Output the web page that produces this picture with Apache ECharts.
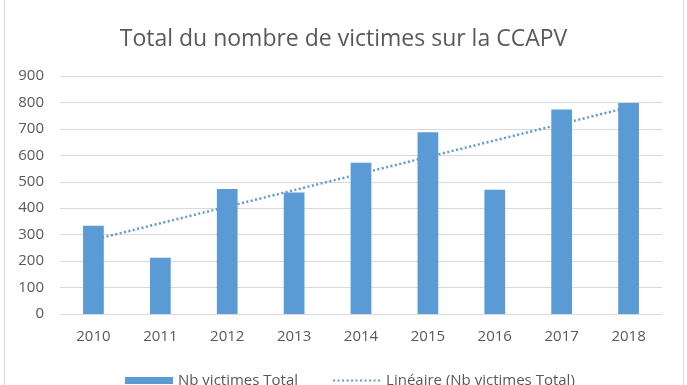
<!DOCTYPE html>
<html>
<head>
<meta charset="utf-8">
<script src="https://cdn.jsdelivr.net/npm/echarts@6/dist/echarts.min.js"></script>
<style>
html,body{margin:0;padding:0;background:#fff;}
#chart{width:687px;height:385px;}
</style>
</head>
<body>
<div id="chart"></div>
<script>
const categories = ['2010','2011','2012','2013','2014','2015','2016','2017','2018'];
const victims = [334, 213, 473, 459, 572, 687, 470, 773, 798];
const yTicks = [0, 100, 200, 300, 400, 500, 600, 700, 800, 900];

// Linear trend (least squares) of the bar series, as in the original "Linéaire" trendline
function linearTrend(vals) {
  const n = vals.length;
  const mx = (n - 1) / 2;
  const my = vals.reduce((a, b) => a + b, 0) / n;
  let sxy = 0, sxx = 0;
  vals.forEach((v, i) => { sxy += (i - mx) * (v - my); sxx += (i - mx) * (i - mx); });
  const slope = sxy / sxx;
  return vals.map((v, i) => +(my + slope * (i - mx)).toFixed(2));
}
const trend = linearTrend(victims);

const chart = echarts.init(document.getElementById('chart'));
const textColor = '#595959';
const font = '"Open Sans", sans-serif';
chart.setOption({
  animation: false,
  textStyle: { fontFamily: font },
  title: {
    text: 'Total du nombre de victimes sur la CCAPV',
    left: 'center',
    top: 23,
    textStyle: { fontFamily: font, fontSize: 23, fontWeight: 'normal', color: textColor }
  },
  graphic: [{
    type: 'rect',
    shape: { x: 4.5, y: -1, width: 679, height: 390 },
    style: { fill: 'none', stroke: '#d9d9d9', lineWidth: 1 },
    silent: true
  }],
  grid: { left: 60, right: 25, top: 76, bottom: 71 },
  legend: {
    top: 368,
    left: 120,
    itemGap: 34,
    itemWidth: 48,
    itemHeight: 7,
    textStyle: { fontFamily: font, fontSize: 15, color: textColor },
    data: [
      { name: 'Nb victimes Total', icon: 'rect' },
      { name: 'Linéaire (Nb victimes Total)', itemStyle: { opacity: 0 } }
    ]
  },
  xAxis: {
    type: 'category',
    data: categories,
    axisLine: { lineStyle: { color: '#d9d9d9' } },
    axisTick: { show: false },
    axisLabel: { color: textColor, fontSize: 15, margin: 15, fontFamily: font }
  },
  yAxis: {
    type: 'value',
    min: yTicks[0],
    max: yTicks[yTicks.length - 1],
    interval: yTicks[1] - yTicks[0],
    axisLine: { show: false },
    axisTick: { show: false },
    splitLine: { lineStyle: { color: '#d9d9d9' } },
    axisLabel: { color: textColor, fontSize: 15, margin: 16, fontFamily: font }
  },
  series: [
    {
      name: 'Nb victimes Total',
      type: 'bar',
      data: victims,
      barWidth: '31%',
      itemStyle: { color: '#5b9bd5' }
    },
    {
      name: 'Linéaire (Nb victimes Total)',
      type: 'line',
      data: trend,
      symbol: 'none',
      lineStyle: { color: '#5b9bd5', width: 2.5, type: [2, 2.5] },
      itemStyle: { color: '#5b9bd5' }
    }
  ]
});
</script>
</body>
</html>
